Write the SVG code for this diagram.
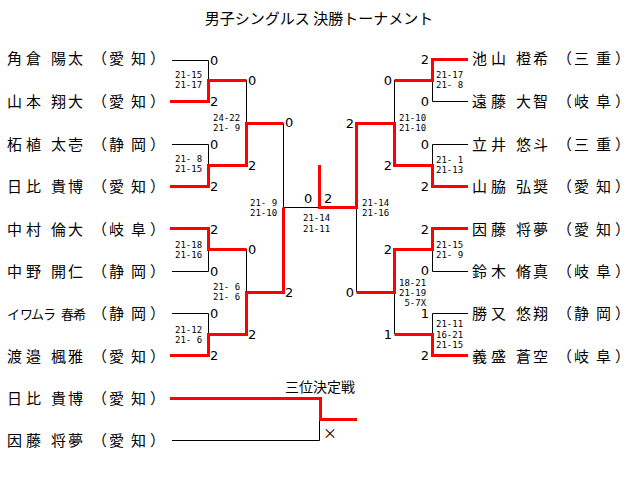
<svg xmlns="http://www.w3.org/2000/svg" width="640" height="481" viewBox="0 0 640 481">
<style>
.nm{font-family:"Noto Sans CJK JP","Noto Sans CJK SC",sans-serif;font-size:15px;fill:#000}
.kt{font-size:13px}
.ttl{font-family:"Noto Sans CJK JP","Noto Sans CJK SC",sans-serif;font-size:15px;fill:#000}
.sc{font-family:"DejaVu Sans","Liberation Sans",sans-serif;font-size:13px;fill:#000}
.ms{font-family:"DejaVu Sans Mono","Liberation Mono",monospace;font-size:9px;fill:#000;white-space:pre}
.r{fill:none;stroke:#ff0000;stroke-width:3}
.b{fill:none;stroke:#000;stroke-width:1}
.e{text-anchor:end}
.m{text-anchor:middle}
</style>
<rect width="640" height="481" fill="#fff"/>
<text class="ttl m" x="319" y="24">男子シングルス 決勝トーナメント</text>

<g id="connectors">
<path class="b" d="M172 60.5H208.5V80"/>
<path class="b" d="M172 144.5H208.5V165"/>
<path class="b" d="M172 271.5H208.5V249"/>
<path class="b" d="M172 313.5H208.5V334"/>
<path class="b" d="M246.5 80V123"/>
<path class="b" d="M246.5 249V292"/>
<path class="b" d="M283.5 123V207.5H319"/>
<path class="b" d="M468 101.5H432.5V80"/>
<path class="b" d="M468 144.5H432.5V165"/>
<path class="b" d="M468 271.5H432.5V249"/>
<path class="b" d="M468 313.5H432.5V334"/>
<path class="b" d="M394.5 80V123"/>
<path class="b" d="M394.5 334V292"/>
<path class="b" d="M356.5 292V207"/>
<path class="b" d="M172 440.5H319.5V419"/>
<path class="r" d="M170 101.5H208.5V80.5H246.5"/>
<path class="r" d="M170 186.5H208.5V165.5H246.5V123.5H283.5"/>
<path class="r" d="M170 228.5H208.5V249.5H246.5"/>
<path class="r" d="M170 355.5H208.5V334.5H246.5V292.5H283.5V207.5"/>
<path class="r" d="M468 59.5H432.5V80.5H394.5"/>
<path class="r" d="M468 186.5H432.5V165.5H394.5V123.5H356.5V207.5H319.5V165"/>
<path class="r" d="M468 228.5H432.5V249.5H394.5V292.5H356.5"/>
<path class="r" d="M468 355.5H432.5V334.5H394.5"/>
<path class="r" d="M170 398.5H320.5V419.5H357"/>
</g>

<g id="left-players">
<g id="p-l1"><text class="nm" x="7 26 51 68 92 109 131 150" y="64">角倉陽太（愛知）</text></g>
<g id="p-l2"><text class="nm" x="7 26 51 68 92 109 131 150" y="107">山本翔大（愛知）</text></g>
<g id="p-l3"><text class="nm" x="7 26 51 68 92 109 131 150" y="150">柘植太壱（静岡）</text></g>
<g id="p-l4"><text class="nm" x="7 26 51 68 92 109 131 150" y="192">日比貴博（愛知）</text></g>
<g id="p-l5"><text class="nm" x="7 26 51 68 92 109 131 150" y="235">中村倫大（岐阜）</text></g>
<g id="p-l6"><text class="nm" x="7 26 51 68 92 109 131 150" y="277">中野開仁（静岡）</text></g>
<g id="p-l7"><text class="nm" y="319"><tspan class="kt" x="7 20 31 43 61 73">イワムラ春希</tspan><tspan x="92 109 131 150">（静岡）</tspan></text></g>
<g id="p-l8"><text class="nm" x="7 26 51 68 92 109 131 150" y="362">渡邉楓雅（愛知）</text></g>
</g>

<g id="right-players">
<g id="p-r1"><text class="nm" x="472 491 516 533 557 574 596 615" y="64">池山橙希（三重）</text></g>
<g id="p-r2"><text class="nm" x="472 491 516 533 557 574 596 615" y="107">遠藤大智（岐阜）</text></g>
<g id="p-r3"><text class="nm" x="472 491 516 533 557 574 596 615" y="150">立井悠斗（三重）</text></g>
<g id="p-r4"><text class="nm" x="472 491 516 533 557 574 596 615" y="192">山脇弘奨（愛知）</text></g>
<g id="p-r5"><text class="nm" x="472 491 516 533 557 574 596 615" y="235">因藤将夢（愛知）</text></g>
<g id="p-r6"><text class="nm" x="472 491 516 533 557 574 596 615" y="277">鈴木脩真（岐阜）</text></g>
<g id="p-r7"><text class="nm" x="472 491 516 533 557 574 596 615" y="319">勝又悠翔（静岡）</text></g>
<g id="p-r8"><text class="nm" x="472 491 516 533 557 574 596 615" y="362">義盛蒼空（岐阜）</text></g>
</g>

<g id="third-place">
<text class="ttl m" style="font-size:14px" x="320" y="392">三位決定戦</text>
<g id="p-t1"><text class="nm" x="7 26 51 68 92 109 131 150" y="404">日比貴博（愛知）</text></g>
<g id="p-t2"><text class="nm" x="7 26 51 68 92 109 131 150" y="446">因藤将夢（愛知）</text></g>
<text class="nm m" style="font-size:14px" x="330" y="438">×</text>
</g>

<g id="game-scores">
<text class="sc" x="210" y="65">0</text>
<text class="sc" x="210" y="106">2</text>
<text class="sc" x="210" y="149">0</text>
<text class="sc" x="210" y="191">2</text>
<text class="sc" x="210" y="234">2</text>
<text class="sc" x="210" y="276">0</text>
<text class="sc" x="210" y="318">0</text>
<text class="sc" x="210" y="360">2</text>
<text class="sc" x="248" y="85">0</text>
<text class="sc" x="248" y="170">2</text>
<text class="sc" x="248" y="254">0</text>
<text class="sc" x="248" y="339">2</text>
<text class="sc" x="285" y="127">0</text>
<text class="sc" x="285" y="297">2</text>
<text class="sc" x="304" y="203">0</text>
<text class="sc" x="324" y="203">2</text>
<text class="sc e" x="429" y="64">2</text>
<text class="sc e" x="429" y="106">0</text>
<text class="sc e" x="429" y="149">0</text>
<text class="sc e" x="429" y="191">2</text>
<text class="sc e" x="429" y="234">2</text>
<text class="sc e" x="429" y="275">0</text>
<text class="sc e" x="429" y="318">1</text>
<text class="sc e" x="429" y="360">2</text>
<text class="sc e" x="392" y="85">0</text>
<text class="sc e" x="392" y="170">2</text>
<text class="sc e" x="392" y="254">2</text>
<text class="sc e" x="392" y="339">1</text>
<text class="sc e" x="354" y="128">2</text>
<text class="sc e" x="354" y="297">0</text>
</g>

<g id="match-scores" xml:space="preserve">
<text class="ms" x="175" y="78">21-15</text>
<text class="ms" x="175" y="88">21-17</text>
<text class="ms" x="175" y="162">21- 8</text>
<text class="ms" x="175" y="172">21-15</text>
<text class="ms" x="175" y="248">21-18</text>
<text class="ms" x="175" y="258">21-16</text>
<text class="ms" x="175" y="333">21-12</text>
<text class="ms" x="175" y="343">21- 6</text>
<text class="ms" x="213" y="121">24-22</text>
<text class="ms" x="213" y="131">21- 9</text>
<text class="ms" x="213" y="290">21- 6</text>
<text class="ms" x="213" y="300">21- 6</text>
<text class="ms" x="250" y="206">21- 9</text>
<text class="ms" x="250" y="216">21-10</text>
<text class="ms" x="303" y="221">21-14</text>
<text class="ms" x="303" y="232">21-11</text>
<text class="ms" x="436" y="78">21-17</text>
<text class="ms" x="436" y="88">21- 8</text>
<text class="ms" x="436" y="163">21- 1</text>
<text class="ms" x="436" y="173">21-13</text>
<text class="ms" x="436" y="248">21-15</text>
<text class="ms" x="436" y="258">21- 9</text>
<text class="ms" x="436" y="327">21-11</text>
<text class="ms" x="436" y="338">16-21</text>
<text class="ms" x="436" y="348">21-15</text>
<text class="ms" x="399" y="121">21-10</text>
<text class="ms" x="399" y="131">21-10</text>
<text class="ms" x="399" y="286">18-21</text>
<text class="ms" x="399" y="296">21-19</text>
<text class="ms" x="399" y="306"> 5-7X</text>
<text class="ms" x="362" y="206">21-14</text>
<text class="ms" x="362" y="216">21-16</text>
</g>
</svg>
